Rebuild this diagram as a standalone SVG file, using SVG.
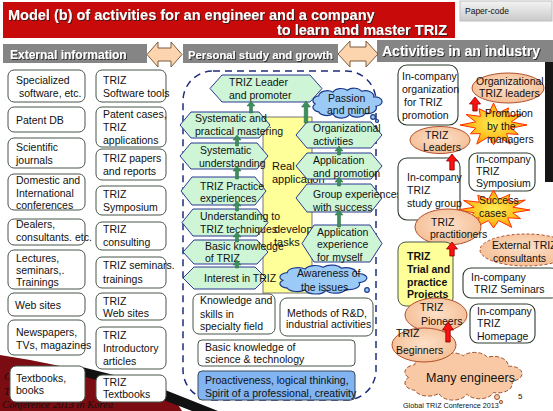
<svg xmlns="http://www.w3.org/2000/svg" width="553" height="411" viewBox="0 0 553 411">
<defs>
<style>
text{font-family:"Liberation Sans",Arial,Helvetica,sans-serif;font-size:10.5px;fill:#111}
.box{fill:#fff;stroke:#485548;stroke-width:1}
.rbox{fill:#fff;stroke:#2f3a2f;stroke-width:1.1}
.hex{fill:#cdf5d6;stroke:#2b3990;stroke-width:1}
.cl{fill:#9ccaf6;stroke:#1c3a8c;stroke-width:1.2}
.ell{fill:url(#peach);stroke:#b0502c;stroke-width:1}
.hdr{fill:#858585}
.ht{font-size:12px;font-weight:bold;fill:#fff;filter:url(#sh)}
.ttl{font-size:14.5px;font-weight:bold;fill:#fff;filter:url(#sh)}
.dbl{fill:#fcd4ae;stroke:#7a5a3c;stroke-width:1}
.ga{fill:#3a8f5a;stroke:#2a6a42;stroke-width:0.5}
.ra{fill:#ff1010;stroke:#8a0000;stroke-width:0.8}
.burst{fill:url(#bur);stroke:#ff3000;stroke-width:1}
.b{font-weight:bold}
</style>
<filter id="sh" x="-5%" y="-30%" width="110%" height="160%"><feDropShadow dx="1" dy="1" stdDeviation="0.4" flood-color="#222" flood-opacity="0.85"/></filter>
<radialGradient id="peach" cx="50%" cy="45%" r="60%"><stop offset="0" stop-color="#fde0c8"/><stop offset="1" stop-color="#f4bc92"/></radialGradient>
<radialGradient id="bur" cx="50%" cy="50%" r="55%"><stop offset="0" stop-color="#ffee55"/><stop offset="0.6" stop-color="#ffc020"/><stop offset="1" stop-color="#ff8a00"/></radialGradient>
<linearGradient id="pc" x1="0" y1="0" x2="0" y2="1"><stop offset="0" stop-color="#f4f4f4"/><stop offset="1" stop-color="#c9c9c9"/></linearGradient>
<path id="cloud" vector-effect="non-scaling-stroke" d="M10,35 A10,10 0 0 1 15,18 A12,12 0 0 1 35,10 A12,12 0 0 1 55,6 A12,12 0 0 1 75,8 A12,12 0 0 1 92,20 A10,10 0 0 1 95,40 A12,12 0 0 1 80,55 A12,12 0 0 1 58,57 A12,12 0 0 1 35,56 A12,12 0 0 1 15,52 A10,10 0 0 1 10,35 Z"/>
<polygon id="burst" vector-effect="non-scaling-stroke" points="100,0 53,14 74,43 39,39 50,87 14,53 0,90 -14,53 -50,87 -39,39 -69,40 -53,14 -100,0 -53,-14 -82,-48 -39,-39 -43,-74 -14,-53 0,-100 14,-53 45,-78 39,-39 87,-50 53,-14"/>
</defs>

<rect x="0" y="0" width="553" height="411" fill="#fff"/>

<!-- background decoration -->
<g id="decoration">
<path d="M0,355 Q60,364 110,379 L175,400 L182,411 L0,411 Z" fill="#7a0c12"/>
<path d="M82,367 L150,384 L218,411 L192,411 L148,394 L82,376 Z" fill="#111"/>
<rect x="545" y="62" width="8" height="120" fill="#151515"/>
<text x="4" y="380" font-size="13" fill="#d9b9b9" style="font-family:'Liberation Serif',serif;font-style:italic">G</text>
<text x="4" y="395" font-size="13" fill="#d9b9b9" style="font-family:'Liberation Serif',serif;font-style:italic">T</text>
<text x="2" y="408" font-size="8.5" fill="#e2c6c6" style="font-family:'Liberation Serif',serif;font-style:italic">Conference 2013 in Korea</text>
</g>

<!-- title -->
<g id="title">
<rect x="3" y="2" width="452" height="36" fill="#c80a0a"/>
<text x="8" y="20" class="ttl">Model (b) of activities for an engineer and a company</text>
<text x="447" y="35" class="ttl" text-anchor="end">to learn and master TRIZ</text>
</g>
<g id="paper-code">
<rect x="460" y="1" width="92" height="20" fill="url(#pc)" stroke="#c0c0c0"/>
<text x="465" y="14" style="font-size:8.5px" fill="#333">Paper-code</text>
</g>

<!-- headers -->
<g id="hdr-external"><rect class="hdr" x="3" y="44" width="144" height="19"/><text class="ht" x="10" y="59">External information</text></g>
<g id="hdr-personal"><rect class="hdr" x="183" y="44" width="155" height="19"/><text class="ht" x="188" y="59" style="font-size:11.3px">Personal study and growth</text></g>
<g id="hdr-industry"><rect class="hdr" x="377" y="40" width="176" height="22"/><text class="ht" x="382" y="56" style="font-size:14px">Activities in an industry</text></g>

<g id="connectors">
<polygon class="dbl" points="147,54.5 158,42 158,48 171,48 171,42 182,54.5 171,67 171,61 158,61 158,67"/>
<polygon class="dbl" points="338,54 350,41 350,47 366,47 366,41 378,54 366,67 366,61 350,61 350,67"/>
</g>

<!-- left column 1 -->
<g id="n-specialized"><rect class="box" x="8" y="70" width="77" height="32" rx="6"/><text x="16" y="84">Specialized</text><text x="19" y="97">software, etc.</text></g>
<g id="n-patentdb"><rect class="box" x="8" y="107" width="77" height="25" rx="6"/><text x="16" y="124">Patent DB</text></g>
<g id="n-journals"><rect class="box" x="8" y="138" width="77" height="30" rx="6"/><text x="16" y="151">Scientific</text><text x="16" y="164">journals</text></g>
<g id="n-conferences"><rect class="box" x="8" y="174" width="77" height="36" rx="6"/><text x="16" y="184">Domestic and</text><text x="16" y="197">International</text><text x="16" y="209">conferences</text></g>
<g id="n-dealers"><rect class="box" x="8" y="219" width="77" height="26" rx="6"/><text x="16" y="228">Dealers,</text><text x="16" y="241">consultants. etc.</text></g>
<g id="n-lectures"><rect class="box" x="8" y="250" width="77" height="39" rx="6"/><text x="16" y="262">Lectures,</text><text x="16" y="274">seminars,.</text><text x="16" y="286">Trainings</text></g>
<g id="n-websites"><rect class="box" x="8" y="293" width="77" height="23" rx="6"/><text x="15" y="309">Web sites</text></g>
<g id="n-newspapers"><rect class="box" x="8" y="320" width="77" height="35" rx="6"/><text x="16" y="336">Newspapers,</text><text x="16" y="349">TVs, magazines</text></g>
<g id="n-textbooks"><rect class="box" x="10" y="366" width="75" height="36" rx="6"/><text x="16" y="382">Textbooks,</text><text x="16" y="394">books</text></g>

<!-- left column 2 -->
<g id="n-triz-software"><rect class="box" x="96" y="70" width="70" height="32" rx="6"/><text x="103" y="84">TRIZ</text><text x="103" y="97">Software tools</text></g>
<g id="n-patent-cases"><rect class="box" x="96" y="107" width="70" height="40" rx="6"/><text x="103" y="118">Patent cases,</text><text x="103" y="131">TRIZ</text><text x="103" y="144">applications</text></g>
<g id="n-triz-papers"><rect class="box" x="96" y="149" width="70" height="31" rx="6"/><text x="103" y="162">TRIZ papers</text><text x="103" y="175">and reports</text></g>
<g id="n-triz-symposium"><rect class="box" x="96" y="186" width="70" height="29" rx="6"/><text x="103" y="198">TRIZ</text><text x="103" y="211">Symposium</text></g>
<g id="n-triz-consulting"><rect class="box" x="96" y="222" width="70" height="28" rx="6"/><text x="103" y="233">TRIZ</text><text x="103" y="246">consulting</text></g>
<g id="n-triz-seminars"><rect class="box" x="96" y="257" width="70" height="31" rx="6"/><text x="103" y="269">TRIZ seminars.</text><text x="103" y="283">trainings</text></g>
<g id="n-triz-web"><rect class="box" x="96" y="293" width="70" height="27" rx="6"/><text x="103" y="305">TRIZ</text><text x="103" y="317">Web sites</text></g>
<g id="n-triz-intro"><rect class="box" x="96" y="327" width="70" height="42" rx="6"/><text x="103" y="339">TRIZ</text><text x="103" y="352">Introductory</text><text x="103" y="365">articles</text></g>
<g id="n-triz-textbooks"><rect class="box" x="96" y="375" width="70" height="27" rx="6"/><text x="103" y="386">TRIZ</text><text x="103" y="398">Textbooks</text></g>

<!-- middle frame -->
<g id="personal-frame">
<rect x="183" y="71" width="193" height="329" rx="30" fill="none" stroke="#1f2d7a" stroke-width="1.5" stroke-dasharray="7,5"/>
</g>
<g id="n-real-application">
<rect x="263" y="117" width="49" height="176" fill="#ffff99" stroke="#555" stroke-width="0.8"/>
<text x="272" y="170" style="font-size:11px">Real</text>
<text x="272" y="183" style="font-size:11px">application</text>
<text x="274" y="233" style="font-size:11px">develop</text>
<text x="274" y="246" style="font-size:11px">tasks</text>
</g>

<!-- hexagons left -->
<g id="n-leader"><polygon class="hex" points="210,88.5 222,75 310,75 322,88.5 310,102 222,102"/><text x="229" y="86">TRIZ Leader</text><text x="229" y="99">and promoter</text></g>
<g id="n-sys-mastering"><polygon class="hex" points="180,125 191,112 259,112 270,125 259,138 191,138"/><text x="195" y="122">Systematic and</text><text x="195" y="135">practical mastering</text></g>
<g id="n-sys-understanding"><polygon class="hex" points="180,156 191,143 257,143 268,156 257,169 191,169"/><text x="200" y="154">Systematic</text><text x="199" y="167">understanding</text></g>
<g id="n-practice"><polygon class="hex" points="181,191 192,177 255,177 266,191 255,205 192,205"/><text x="200" y="190">TRIZ Practice</text><text x="200" y="202">experiences</text></g>
<g id="n-understanding"><polygon class="hex" points="182,222.5 193,209 257,209 268,222.5 257,236 193,236"/><text x="200" y="220">Understanding to</text><text x="200" y="233">TRIZ techniques</text></g>
<g id="n-basic-triz"><polygon class="hex" points="183,252 194,240 257,240 268,252 257,264 194,264"/><text x="205" y="250">Basic knowledge</text><text x="205" y="262">of TRIZ</text></g>
<g id="n-interest"><polygon class="hex" points="183,278 194,267 255,267 266,278 255,289 194,289"/><text x="204" y="282">Interest in TRIZ</text></g>

<!-- hexagons right -->
<g id="n-org-activities"><polygon class="hex" points="296,135 307,122 371,122 382,135 371,148 307,148"/><text x="313" y="132">Organizational</text><text x="313" y="145">activities</text></g>
<g id="n-app-promotion"><polygon class="hex" points="296,166 307,153 371,153 382,166 371,179 307,179"/><text x="313" y="164">Application</text><text x="313" y="177">and promotion</text></g>
<g id="n-group"><polygon class="hex" points="296,198 307,184 371,184 382,198 371,212 307,212"/><text x="313" y="198">Group experiences</text><text x="313" y="211">with success</text></g>
<g id="n-app-myself"><polygon class="hex" points="302,243.5 314,225 370,225 382,243.5 370,262 314,262"/><text x="317" y="236">Application</text><text x="317" y="248">experience</text><text x="317" y="261">for myself</text></g>

<!-- clouds -->
<g id="n-passion"><use href="#cloud" class="cl" transform="translate(308,87.5) scale(0.715,0.469)"/><circle cx="373" cy="117" r="2.3" class="cl"/><circle cx="377" cy="121" r="1.5" class="cl"/><text x="328" y="102">Passion</text><text x="327" y="114">and mind</text></g>
<g id="n-awareness"><use href="#cloud" class="cl" transform="translate(273.7,264.5) scale(0.9,0.453)"/><circle cx="367" cy="290" r="2.3" class="cl"/><text x="297" y="277">Awareness of</text><text x="301" y="291">the issues</text></g>

<!-- bottom middle boxes -->
<g id="n-knowledge"><rect class="box" x="193" y="294" width="82" height="40" rx="6"/><text x="200" y="304">Knowledge and</text><text x="200" y="318">skills in</text><text x="200" y="330">specialty field</text></g>
<g id="n-methods"><rect class="box" x="280" y="298" width="93" height="38" rx="7"/><text x="287" y="317">Methods of R&amp;D,</text><text x="286" y="328">industrial activities</text></g>
<g id="n-basic-science"><rect class="box" x="198" y="340" width="157" height="26" rx="4"/><text x="205" y="351">Basic knowledge of</text><text x="205" y="363">science &amp; technology</text></g>
<g id="n-proactiveness"><rect x="198" y="371" width="157" height="29" rx="4" fill="#82b4f2" stroke="#3a4a5a" stroke-width="1"/><text x="205" y="384">Proactiveness, logical thinking,</text><text x="205" y="397">Spirit of a professional, creativity</text></g>

<!-- right column -->
<g id="n-inco-org"><rect class="rbox" x="398" y="65" width="60" height="60" rx="9"/><text x="402" y="80">In-company</text><text x="402" y="93">organization</text><text x="404" y="106">for TRIZ</text><text x="402" y="119">promotion</text></g>
<g id="n-org-leaders"><ellipse class="ell" cx="508" cy="88" rx="36" ry="15"/><text x="476" y="85">Organizational</text><text x="479" y="97">TRIZ leaders</text></g>
<g id="n-promotion"><use href="#burst" class="burst" transform="translate(493.5,125) scale(0.335,0.22)"/><text x="485" y="117">Promotion</text><text x="487" y="130">by the</text><text x="487" y="143">managers</text></g>
<g id="n-leaders"><ellipse class="ell" cx="440" cy="140" rx="30" ry="13.5"/><text x="425" y="139">TRIZ</text><text x="423" y="151">Leaders</text></g>
<g id="n-inco-symposium"><rect class="rbox" x="469" y="153" width="66" height="38" rx="8"/><text x="476" y="163">In-company</text><text x="476" y="175">TRIZ</text><text x="476" y="187">Symposium</text></g>
<g id="n-study-group"><rect class="rbox" x="398" y="158" width="62" height="62" rx="9"/><text x="407" y="181">In-company</text><text x="407" y="194">TRIZ</text><text x="407" y="207">study group</text></g>
<g id="n-success"><use href="#burst" class="burst" transform="translate(493.5,210) scale(0.365,0.2)"/><text x="479" y="204">Success</text><text x="479" y="217">cases</text></g>
<g id="n-practitioners"><ellipse class="ell" cx="448" cy="227" rx="33" ry="18"/><text x="431" y="226">TRIZ</text><text x="430" y="238">practitioners</text></g>
<g id="n-external-consultants"><ellipse class="ell" cx="526" cy="250" rx="46" ry="16" stroke-dasharray="3,2"/><text x="492" y="249">External TRIZ</text><text x="493" y="262">consultants</text></g>
<g id="n-trial"><rect x="398" y="242" width="55" height="64" rx="8" fill="#ffff99" stroke="#4b584b" stroke-width="1"/><text class="b" x="407" y="260">TRIZ</text><text class="b" x="407" y="273">Trial and</text><text class="b" x="407" y="286">practice</text><text class="b" x="407" y="298">Projects</text></g>
<g id="n-inco-seminars"><rect class="rbox" x="463" y="268" width="96" height="30" rx="8"/><text x="471" y="281">In-company</text><text x="474" y="293">TRIZ Seminars</text></g>
<g id="n-pioneers"><ellipse class="ell" cx="436" cy="315" rx="31" ry="17"/><text x="420" y="311">TRIZ</text><text x="421" y="325">Pioneers</text></g>
<g id="n-inco-homepage"><rect class="rbox" x="470" y="304" width="65" height="39" rx="8"/><text x="477" y="315">In-company</text><text x="477" y="327">TRIZ</text><text x="477" y="340">Homepage</text></g>
<g id="n-many"><use href="#cloud" transform="translate(396.5,351.25) scale(1.212,0.75)" fill="#f8c9a4" stroke="#a0522d" stroke-width="1" stroke-dasharray="4,2"/><circle cx="497" cy="397" r="2.5" fill="#f8c9a4" stroke="#a0522d"/><circle cx="501" cy="402" r="1.6" fill="#f8c9a4" stroke="#a0522d"/><text x="426" y="382" style="font-size:12.5px">Many engineers</text></g>
<g id="n-beginners"><ellipse class="ell" cx="424" cy="345" rx="32" ry="17"/><text x="396" y="337">TRIZ</text><text x="396" y="354">Beginners</text></g>

<!-- arrows -->
<g id="arrows">
<path class="ga" d="M251,101 L255,106 L252.5,106 L252.5,113 L249.5,113 L249.5,106 L247,106 Z"/>
<path class="ga" d="M237,135 L241,140 L238.5,140 L238.5,146 L235.5,146 L235.5,140 L233,140 Z"/>
<path class="ga" d="M237,166 L241,171 L238.5,171 L238.5,179 L235.5,179 L235.5,171 L233,171 Z"/>
<path class="ga" d="M237,201 L241,206 L238.5,206 L238.5,211 L235.5,211 L235.5,206 L233,206 Z"/>
<path class="ga" d="M237,232 L241,237 L238.5,237 L238.5,242 L235.5,242 L235.5,237 L233,237 Z"/>
<path class="ga" d="M237,260 L241,265 L238.5,265 L238.5,268 L235.5,268 L235.5,265 L233,265 Z"/>
<path class="ga" d="M306,101 L310.5,107 L307.8,107 L307.8,123 L304.2,123 L304.2,107 L301.5,107 Z"/>
<path class="ga" d="M339,146 L343,151 L340.5,151 L340.5,155 L337.5,155 L337.5,151 L335,151 Z"/>
<path class="ga" d="M339,177 L343,182 L340.5,182 L340.5,186 L337.5,186 L337.5,182 L335,182 Z"/>
<path class="ga" d="M339,210 L343,215 L340.5,215 L340.5,227 L337.5,227 L337.5,215 L335,215 Z"/>
<path class="ra" d="M475,97 L480.5,104 L477.2,104 L477.2,111 L472.8,111 L472.8,104 L469.5,104 Z"/>
<path class="ra" d="M452,154 L457.5,161 L454.2,161 L454.2,170 L449.8,170 L449.8,161 L446.5,161 Z"/>
<path class="ra" d="M452,242 L457.5,249 L454.2,249 L454.2,256 L449.8,256 L449.8,249 L446.5,249 Z"/>
<path class="ra" d="M448,322 L453.5,330 L450.2,330 L450.2,342 L445.8,342 L445.8,330 L442.5,330 Z"/>
</g>

<g id="footer">
<text x="403" y="408" style="font-size:7.2px">Global TRIZ Conference 2013</text>
<text x="518" y="399" style="font-size:8px">5</text>
</g>
</svg>
